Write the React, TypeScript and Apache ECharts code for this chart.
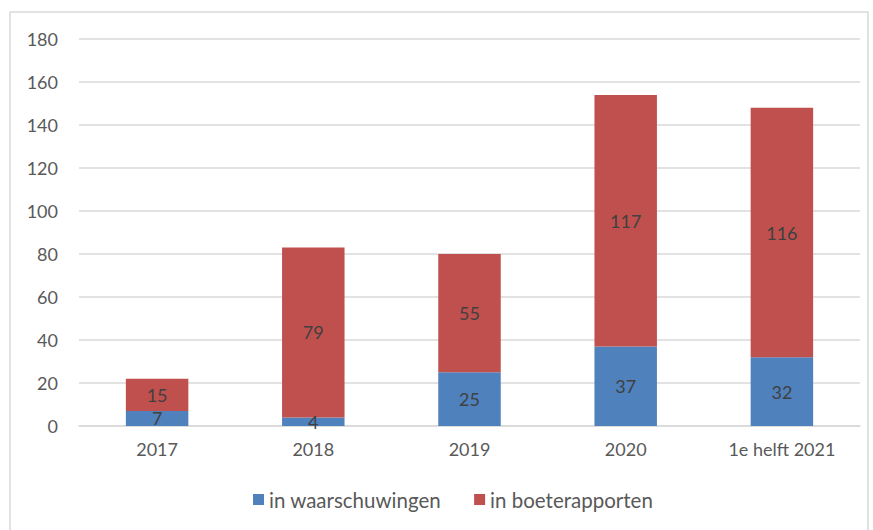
import React, { useEffect, useRef } from "react";
import * as echarts from "echarts";

const categories = ["2017", "2018", "2019", "2020", "1e helft 2021"];
const waarschuwingen = [7, 4, 25, 37, 32];
const boeterapporten = [15, 79, 55, 117, 116];
const seriesNames = ["in waarschuwingen", "in boeterapporten"];

const FONT = "Lato, 'Open Sans', sans-serif";

export default function App() {
  const ref = useRef<HTMLDivElement>(null);
  useEffect(() => {
    document.body.style.margin = "0";
    const chart = echarts.init(ref.current!, undefined, { renderer: "svg" });
    const label = {
      show: true,
      position: "inside",
      color: "#404040",
      fontSize: 18,
      fontFamily: FONT,
    };
    chart.setOption({
      animation: false,
      backgroundColor: "#ffffff",
      graphic: [
        {
          type: "rect",
          shape: { x: 10, y: 12, width: 858, height: 530 },
          style: { fill: "none", stroke: "#d9d9d9", lineWidth: 1.5 },
          silent: true,
        },
      ],
      grid: { left: 79, right: 13, top: 39, bottom: 104 },
      legend: {
        bottom: 15,
        left: 248,
        itemWidth: 11,
        itemHeight: 11,
        itemGap: 33,
        icon: "rect",
        textStyle: { color: "#595959", fontSize: 20.5, fontFamily: FONT },
        data: seriesNames,
      },
      xAxis: {
        type: "category",
        data: categories,
        axisLine: { show: true, lineStyle: { color: "#d9d9d9", width: 1.5 } },
        axisTick: { show: false },
        axisLabel: { color: "#595959", fontSize: 18, fontFamily: FONT, margin: 14 },
      },
      yAxis: {
        type: "value",
        min: 0,
        max: 180,
        interval: 20,
        axisLine: { show: false },
        axisTick: { show: false },
        splitLine: { lineStyle: { color: "#d9d9d9", width: 1.5 } },
        axisLabel: { color: "#595959", fontSize: 18, fontFamily: FONT, margin: 21 },
      },
      series: [
        {
          name: seriesNames[0],
          type: "bar",
          stack: "total",
          data: waarschuwingen,
          barWidth: "40%",
          itemStyle: { color: "#4f81bd" },
          label,
        },
        {
          name: seriesNames[1],
          type: "bar",
          stack: "total",
          data: boeterapporten,
          barWidth: "40%",
          itemStyle: { color: "#c0504d" },
          label,
        },
      ],
    });
    return () => chart.dispose();
  }, []);
  return <div ref={ref} style={{ width: 873, height: 530 }} />;
}
